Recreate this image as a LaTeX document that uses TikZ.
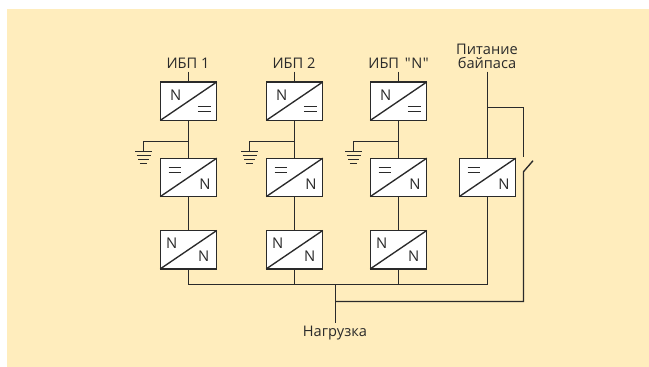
\documentclass[tikz,border=0pt]{standalone}
\usepackage{fontspec}
\newfontfamily\plainfont{Open Sans}
\definecolor{bgcol}{HTML}{FFEDBD}
\definecolor{inkcol}{HTML}{2A2A2A}
\tikzset{
  wire/.style={draw=inkcol,line width=1.35pt},
  thin wire/.style={draw=inkcol,line width=1.05pt},
  conv/.style={draw=inkcol,fill=white,line width=1.4pt,minimum width=56.5pt,minimum height=38.4pt,inner sep=0pt,outer sep=0pt},
  lab/.style={inner sep=0pt,outer sep=0pt,text=inkcol,font=\plainfont\fontsize{14.6pt}{16pt}\selectfont,align=center},
  sym/.style={inner sep=0pt,outer sep=0pt,text=inkcol,font=\plainfont\fontsize{14.8pt}{16pt}\selectfont}
}
\newcommand{\convbox}[3]{% name, x, y
  \node[conv] (#1) at (#2,#3) {};
  \draw[wire] (#1.south west) -- (#1.north east);
}
\newcommand{\eqsym}[2]{% centre x, y
  \draw[thin wire] (#1-6.4,#2-2.5) -- (#1+6.4,#2-2.5) (#1-6.4,#2+2.5) -- (#1+6.4,#2+2.5);
}
\newcommand{\groundsym}[2]{% name, upper node
  \coordinate (#1a) at ($(#2.south)+(0,21)$);
  \coordinate (#1b) at ($(#1a)+(-45,0)$);
  \coordinate (#1c) at ($(#1b)+(0,10)$);
  \draw[wire] (#1a) -- (#1b) -- (#1c);
  \draw[thin wire] ($(#1c)+(-8.2,0)$) -- ($(#1c)+(8.2,0)$)
    ($(#1c)+(-7,4)$) -- ($(#1c)+(7,4)$)
    ($(#1c)+(-5.5,8)$) -- ($(#1c)+(5.5,8)$)
    ($(#1c)+(-3.6,12)$) -- ($(#1c)+(3.6,12)$);
}
\usetikzlibrary{calc}
\begin{document}
\begin{tikzpicture}[x=1pt,y=-1pt]
\useasboundingbox (0,0) rectangle (649,367);
\fill[white] (0,0) rectangle (649,367);
\fill[bgcol] (7,9) rectangle (649,367);

\foreach \n/\x in {a/188.5,b/294.5,c/398.5}{
  \convbox{\n1}{\x}{101.2}
  \convbox{\n2}{\x}{177.4}
  \convbox{\n3}{\x}{249.7}
  \node[sym] at (\x-12.8,95) {N};
  \eqsym{\x+15.8}{109.2}
  \eqsym{\x-13.5}{170.2}
  \node[sym] at (\x+16.5,184) {N};
  \node[sym] at (\x-16.8,243.3) {N};
  \node[sym] at (\x+15.2,256) {N};
}
\convbox{d2}{487.5}{177.4}
\eqsym{474}{170.2}
\node[sym] at (504,184) {N};

\node[lab,anchor=base] (la) at (188,68.5) {ИБП 1};
\node[lab,anchor=base] (lb) at (294,68.5) {ИБП 2};
\node[lab,anchor=base] (lc) at (398.5,68.5) {ИБП\hspace{2pt} "\hspace{0.5pt}N\hspace{0.5pt}"};
\node[lab,anchor=base] (ld) at (487,54) {Питание};
\node[lab,anchor=base] (le) at (487,68.5) {байпаса};
\node[lab,anchor=base] (load) at (335,336) {Нагрузка};

\foreach \n in {a,b,c}{
  \coordinate (\n top) at ($(\n1.north)+(0,-10.5)$);
  \draw[wire] (\n top) -- (\n1.north);
  \draw[wire] (\n1.south) -- (\n2.north);
  \draw[wire] (\n2.south) -- (\n3.north);
  \groundsym{g\n}{\n1}
}
\coordinate (dtop) at (487.5,71.7);
\draw[wire] (dtop) -- (d2.north);
\coordinate (bus) at (335.5,284.5);
\coordinate (loadend) at (335.5,322.7);
\coordinate (tap) at (335.5,301.5);
\coordinate (sw1) at (523.5,107.5);
\coordinate (sw2) at (523.5,157.3);
\coordinate (sw3) at (523.5,171.7);
\coordinate (sw4) at (533,160.7);
\coordinate (sw5) at (523.5,301.5);
\coordinate (dbr) at (487.5,107.5);
\draw[wire] (a3.south) -- (a3.south |- bus) -- (d2.south |- bus) -- (d2.south);
\draw[wire] (b3.south) -- (b3.south |- bus);
\draw[wire] (c3.south) -- (c3.south |- bus);
\draw[wire] (bus) -- (loadend);
\draw[wire] (dbr) -- (sw1) -- (sw2);
\draw[wire] (sw4) -- (sw3) -- (sw5) -- (tap);
\end{tikzpicture}
\end{document}
